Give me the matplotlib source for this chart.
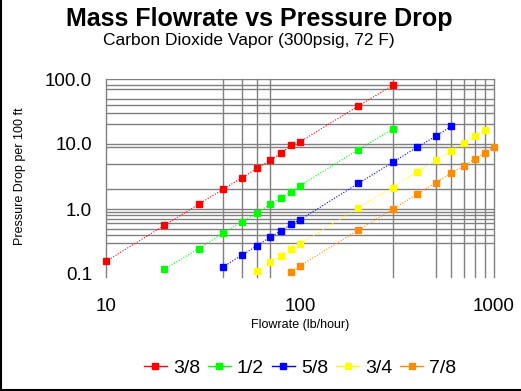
import matplotlib
matplotlib.use("Agg")
import matplotlib.pyplot as plt
from matplotlib.lines import Line2D

plt.rcParams['font.family'] = ['Liberation Sans', 'DejaVu Sans']

# flowrate (lb/hour) and pressure drop (psi per 100 ft) for each tube size
sizes = ['3/8', '1/2', '5/8', '3/4', '7/8']
colors = ['#FF0000', '#00FF00', '#0000FF', '#FFFF00', '#FF8C00']

flow_38 = [10, 20, 30, 40, 50, 60, 70, 80, 90, 100, 200, 300]
drop_38 = [0.157, 0.56, 1.18, 2.0, 3.0, 4.2, 5.6, 7.2, 9.7, 10.8, 38.5, 80]

flow_12 = [20, 30, 40, 50, 60, 70, 80, 90, 100, 200, 300]
drop_12 = [0.118, 0.245, 0.42, 0.64, 0.86, 1.18, 1.49, 1.85, 2.28, 8.2, 16.8]

flow_58 = [40, 50, 60, 70, 80, 90, 100, 200, 300, 400, 500, 600]
drop_58 = [0.128, 0.194, 0.272, 0.367, 0.464, 0.58, 0.684, 2.48, 5.2, 8.9, 13.1, 18.7]

flow_34 = [60, 70, 80, 90, 100, 200, 300, 400, 500, 600, 700, 800, 900]
drop_34 = [0.111, 0.155, 0.191, 0.24, 0.29, 1.05, 2.13, 3.75, 5.6, 7.8, 10.3, 13.1, 16.3]

flow_78 = [90, 100, 200, 300, 400, 500, 600, 700, 800, 900, 1000]
drop_78 = [0.108, 0.134, 0.475, 0.99, 1.68, 2.54, 3.54, 4.64, 5.94, 7.35, 9.0]

flows = [flow_38, flow_12, flow_58, flow_34, flow_78]
drops = [drop_38, drop_12, drop_58, drop_34, drop_78]

# grid lines as they appear on the original chart
x_grid = [10, 40, 50, 60, 70, 300, 500, 600, 700, 800, 900, 1000]
y_grid = [100, 80, 70, 50, 40, 30, 20, 10, 9, 5, 2, 1, 0.9, 0.8, 0.7, 0.6, 0.5, 0.4, 0.3]

fig = plt.figure(figsize=(5.21, 3.91), dpi=100)
ax = fig.add_axes([106 / 521, 1 - 274 / 391, 388 / 521, 195 / 391])
ax.set_xscale('log')
ax.set_yscale('log')
ax.set_xlim(10, 1000)
ax.set_ylim(0.1, 100)

for xv in x_grid:
    ax.axvline(xv, ymin=-0.015, color='#808080', lw=1.0, zorder=1, clip_on=False)
for yv in y_grid:
    ax.axhline(yv, color='#808080', lw=1.0, zorder=1)

for name, color, fx, dy in zip(sizes, colors, flows, drops):
    ax.plot(fx, dy, color=color, lw=0.8, ls=(0, (1, 1.5)), zorder=2)
    ax.plot(fx, dy, ls='none', marker='s', ms=4.5, mfc=color, mec=color, zorder=3,
            clip_on=False)

for s in ax.spines.values():
    s.set_visible(False)

ax.set_xticks([10, 100, 1000])
ax.set_xticklabels(['10', '100', '1000'])
ax.set_yticks([0.1, 1, 10, 100])
ax.set_yticklabels(['0.1', '1.0', '10.0', '100.0'])
ax.minorticks_off()
ax.tick_params(axis='x', length=0, pad=17, labelsize=13.5)
ax.tick_params(axis='y', length=0, pad=10, labelsize=13.5)

ax.set_xlabel('Flowrate (lb/hour)', fontsize=9, labelpad=3)
ax.set_ylabel('Pressure Drop per 100 ft', fontsize=9, labelpad=14)

fig.text(0.497, 1 - 19 / 391, 'Mass Flowrate vs Pressure Drop', ha='center', va='center',
         fontsize=18, fontweight='bold')
fig.text(0.478, 1 - 41 / 391, 'Carbon Dioxide Vapor (300psig, 72 F)', ha='center', va='center',
         fontsize=12.5)

handles = [Line2D([], [], color=c, lw=1, marker='s', ms=5, mfc=c, mec=c) for c in colors]
fig.legend(handles, sizes, loc='center', bbox_to_anchor=(300 / 521, 1 - 368 / 391), ncol=5,
           frameon=False, fontsize=14, handlelength=1.2, handletextpad=0.3, columnspacing=0.4)

# black border on the left and bottom edges
fig.add_artist(Line2D([0.002, 0.002], [0, 1], transform=fig.transFigure, color='black', lw=1.5))
fig.add_artist(Line2D([0, 1], [0.003, 0.003], transform=fig.transFigure, color='black', lw=1.5))

fig.savefig('out.png', dpi=100)
